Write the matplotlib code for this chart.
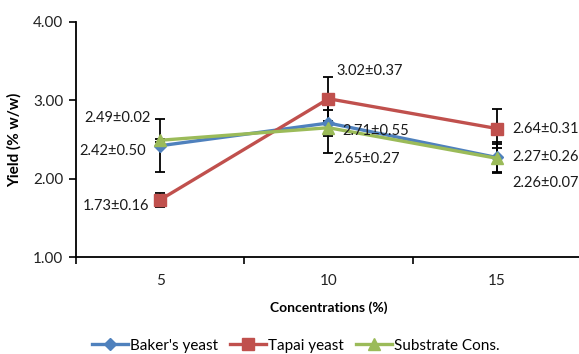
import numpy as np
import matplotlib.pyplot as plt
from matplotlib.ticker import FixedLocator, NullFormatter

# ── Data ──────────────────────────────────────────────────────────────────────

concentrations = ["5", "10", "15"]

baker = [2.42, 2.71, 2.27]
tapai = [1.73, 3.02, 2.64]
substrate = [2.49, 2.65, 2.26]

baker_err = [0.34, 0.17, 0.20]
tapai_err = [0.09, 0.28, 0.25]
substrate_err = [0.02, 0.32, 0.18]

baker_labels = ["2.42±0.50", "2.71±0.55", "2.27±0.26"]
tapai_labels = ["1.73±0.16", "3.02±0.37", "2.64±0.31"]
substrate_labels = ["2.49±0.02", "2.65±0.27", "2.26±0.07"]

# ── Figure ────────────────────────────────────────────────────────────────────

plt.rcParams["font.family"] = ["Lato", "DejaVu Sans"]

fig = plt.figure(figsize=(5.79, 3.54), dpi=100)
ax = fig.add_axes([0.1313, 0.274, 0.872, 0.664])

x = np.arange(len(concentrations))

series = [
    ("Baker's yeast", baker, baker_err, "#4F81BD", "D", 6),
    ("Tapai yeast", tapai, tapai_err, "#C0504D", "s", 8.5),
    ("Substrate Cons.", substrate, substrate_err, "#9BBB59", "^", 8),
]

for name, vals, err, color, marker, ms in series:
    ax.errorbar(x, vals, yerr=err, fmt="none", ecolor="black",
                elinewidth=1.3, capsize=3.5, capthick=1.3, zorder=2)
    ax.plot(x, vals, color=color, lw=2.4, marker=marker, ms=ms,
            mec=color, mfc=color, label=name, zorder=3)

# value labels (offsets in data units)
label_pos = [
    (substrate_labels[0], x[0], substrate[0], -0.45, 0.29),
    (baker_labels[0], x[0], baker[0], -0.48, -0.07),
    (tapai_labels[0], x[0], tapai[0], -0.46, -0.08),
    (tapai_labels[1], x[1], tapai[1], 0.05, 0.36),
    (baker_labels[1], x[1], baker[1], 0.08, -0.10),
    (substrate_labels[1], x[1], substrate[1], 0.03, -0.40),
    (tapai_labels[2], x[2], tapai[2], 0.09, 0.00),
    (baker_labels[2], x[2], baker[2], 0.09, 0.00),
    (substrate_labels[2], x[2], substrate[2], 0.09, -0.31),
]
for txt, xi, yi, dx, dy in label_pos:
    ax.text(xi + dx, yi + dy, txt, fontsize=10.5, color="#1a1a1a",
            ha="left", va="center", zorder=4)

# ── Axes styling ──────────────────────────────────────────────────────────────

ax.set_xlim(-0.5, 2.5)
ax.set_ylim(1.0, 4.0)
ax.set_yticks([1.0, 2.0, 3.0, 4.0])
ax.set_yticklabels(["1.00", "2.00", "3.00", "4.00"])

ax.xaxis.set_major_locator(FixedLocator([-0.5, 0.5, 1.5, 2.5]))
ax.xaxis.set_major_formatter(NullFormatter())
ax.xaxis.set_minor_locator(FixedLocator(x))
ax.set_xticklabels(concentrations, minor=True)
ax.tick_params(axis="x", which="minor", length=0, pad=12, labelsize=11, labelcolor="#222")
ax.tick_params(axis="x", which="major", length=5, width=1.2, direction="out")
ax.tick_params(axis="y", length=5, width=1.2, direction="out", labelsize=11, labelcolor="#222", pad=4)

for side in ["top", "right"]:
    ax.spines[side].set_visible(False)
for side in ["left", "bottom"]:
    ax.spines[side].set_linewidth(1.3)

ax.set_xlabel("Concentrations (%)", fontsize=10, fontweight="bold", labelpad=10)
ax.set_ylabel("Yield (% w/w)", fontsize=11, fontweight="bold", labelpad=8)

fig.legend(loc="center", bbox_to_anchor=(0.511, 0.024), ncol=3, frameon=False,
           fontsize=11, handlelength=2.35, columnspacing=0.8, handletextpad=0.15)

fig.savefig("out.png", dpi=100)
